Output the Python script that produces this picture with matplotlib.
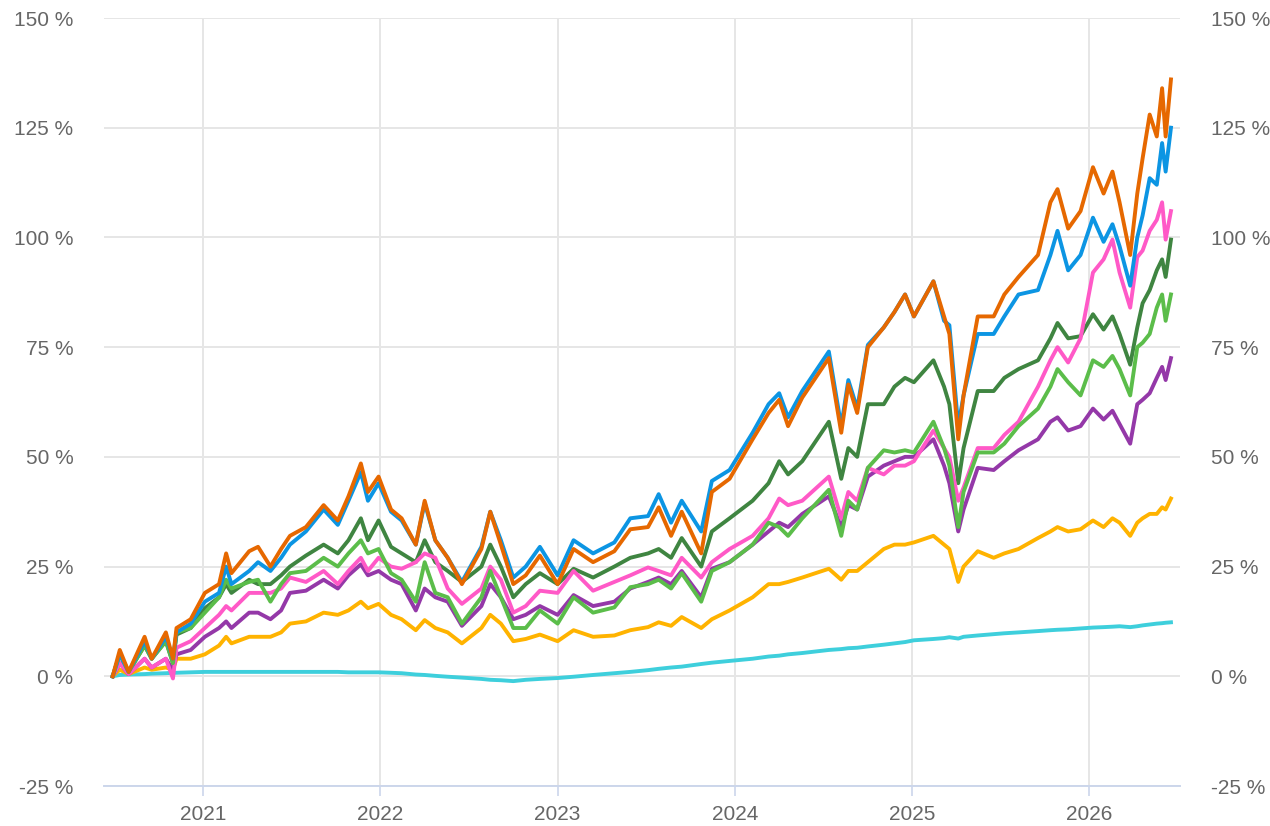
import matplotlib
matplotlib.use("Agg")
import matplotlib.pyplot as plt
from matplotlib.ticker import FuncFormatter

plt.rcParams['font.family'] = ['Liberation Sans', 'DejaVu Sans']

# time axis in fractional years
t = [2020.49, 2020.53, 2020.58, 2020.67, 2020.71, 2020.79, 2020.83, 2020.85, 2020.93, 2021.01,
     2021.09, 2021.13, 2021.16, 2021.26, 2021.31, 2021.38, 2021.44, 2021.49, 2021.58, 2021.68,
     2021.76, 2021.82, 2021.89, 2021.93, 2021.99, 2022.06, 2022.12, 2022.20, 2022.25, 2022.31,
     2022.38, 2022.46, 2022.57, 2022.62, 2022.68, 2022.75, 2022.82, 2022.90, 2023.00, 2023.09,
     2023.20, 2023.32, 2023.41, 2023.51, 2023.57, 2023.64, 2023.70, 2023.81, 2023.87, 2023.97,
     2024.10, 2024.19, 2024.25, 2024.30, 2024.38, 2024.53, 2024.60, 2024.64, 2024.69, 2024.75,
     2024.84, 2024.90, 2024.96, 2025.01, 2025.12, 2025.18, 2025.21, 2025.26, 2025.29, 2025.37,
     2025.46, 2025.52, 2025.60, 2025.71, 2025.78, 2025.82, 2025.88, 2025.95, 2026.02, 2026.08,
     2026.13, 2026.17, 2026.23, 2026.27, 2026.30, 2026.34, 2026.38, 2026.41, 2026.43, 2026.46]

# performance in %
orange = [0, 6, 1, 9, 4, 10, 4, 11, 13, 19,
          21, 28, 23.5, 28.5, 29.5, 25, 29, 32, 34, 39,
          35.5, 41, 48.5, 42, 45.5, 38, 36, 30, 40, 31,
          27, 21, 29, 37.5, 30, 21, 23, 27.5, 21, 29,
          26, 28.5, 33.5, 34, 38.5, 32, 37.5, 28, 42, 45,
          54, 60, 63, 57, 63.5, 72.5, 55.5, 66.5, 60, 75,
          79.5, 83, 87, 82, 90, 82, 78, 54, 64, 82,
          82, 87, 91, 96, 108, 111, 102, 106, 116, 110,
          115, 108, 96, 110, 118, 128, 123, 134, 123, 136]
blue = [0, 5, 1, 8, 4, 9, 4, 10, 12, 17,
        19, 25, 21, 24, 26, 24, 27, 30, 33, 38,
        34.5, 40, 46.5, 40, 44, 37.5, 35.5, 30, 39.5, 31,
        27, 21.5, 29.5, 37.5, 31, 22.5, 25, 29.5, 23, 31,
        28, 30.5, 36, 36.5, 41.5, 35, 40, 33, 44.5, 47,
        55.5, 62, 64.5, 59, 65, 74, 57, 67.5, 61, 75.5,
        79.5, 83, 87, 82, 90, 81, 80, 57, 64, 78,
        78, 82, 87, 88, 96, 101.5, 92.5, 96, 104.5, 99,
        103, 98, 89, 100, 105, 113.5, 112, 121.5, 115, 125]
dark_green = [0, 5, 1, 7, 4, 8, 3, 9.5, 11, 15.5,
              18, 21, 19, 22, 21, 21, 23, 25, 27.5, 30,
              28, 31, 36, 31, 35.5, 29.5, 28, 26, 31, 26,
              24, 21.5, 25, 30, 25, 18, 21, 23.5, 21, 24.5,
              22.5, 25, 27, 28, 29, 27, 31.5, 25, 33, 36,
              40, 44, 49, 46, 49, 58, 45, 52, 50, 62,
              62, 66, 68, 67, 72, 66, 62, 44, 52, 65,
              65, 68, 70, 72, 77, 80.5, 77, 77.5, 82.5, 79,
              82, 78, 71, 79.5, 85, 88, 92.5, 95, 91, 99.5]
pink = [0, 3, 0.5, 4, 2, 4, -0.5, 6.5, 8, 11,
        14, 16, 15, 19, 19, 19, 20, 22.5, 21.5, 24,
        21, 24, 27, 24, 27, 25, 24.5, 26, 28, 27,
        20, 16.5, 20, 25, 22, 14.5, 16, 19.5, 19, 24,
        19.5, 21.5, 23, 24.8, 24, 23, 27, 22.5, 26, 29,
        32, 36, 40.5, 39, 40, 45.5, 36, 42, 40, 47.5,
        46, 48, 48, 49, 56, 52, 50, 40, 43, 52,
        52, 55, 58, 66, 72, 75, 71.5, 77, 92, 95,
        99.5, 92, 84, 95.5, 97, 101.5, 104, 108, 99.5, 106]
light_green = [0, 5, 1, 7, 4, 8, 3, 10, 11, 14.5,
               18, 22, 20, 21.5, 22, 17, 21, 23.5, 24, 27,
               25, 28, 31, 28, 29, 23.5, 22, 17, 26, 19,
               18, 12, 18, 24, 18, 11, 11, 15, 12, 18,
               14.5, 15.7, 20.3, 21, 22, 20, 23.5, 17, 24, 26,
               30, 35, 34, 32, 36, 42.5, 32, 40, 38, 47.5,
               51.5, 51, 51.5, 51, 58, 52, 48, 34, 42, 51,
               51, 53, 57, 61, 66, 70, 67, 64, 72, 70.5,
               73, 70, 64, 75, 76, 78, 84, 87, 81, 87]
purple = [0, 3, 0.5, 4, 2, 4, 1.4, 5, 6, 9,
          11, 12.5, 11, 14.5, 14.5, 13, 15, 19, 19.5, 22,
          20, 23, 25.5, 23, 24, 22, 21, 15, 20, 18,
          17, 11.5, 16, 21, 18, 13, 14, 16, 14, 18.5,
          16, 17, 20, 21.5, 22.5, 21, 24, 18, 24.5, 26,
          30, 33, 35, 34, 37, 41, 34, 39, 38, 45.5,
          48, 49, 50, 50, 54, 48, 44, 33, 38, 47.5,
          47, 49, 51.5, 54, 58, 59, 56, 57, 61, 58.5,
          60.5, 57.5, 53, 62, 63, 64.5, 68, 70.5, 67.5, 72.5]
yellow = [0, 1.5, 0.5, 2, 1.5, 2, 1.5, 4, 4, 5,
          7, 9, 7.5, 9, 9, 9, 10, 12, 12.5, 14.5,
          14, 15, 17, 15.5, 16.5, 14, 13, 10.5, 12.8, 11,
          10, 7.5, 11, 14, 12, 8, 8.5, 9.5, 8, 10.5,
          9, 9.3, 10.5, 11.2, 12.3, 11.5, 13.5, 11, 13, 15,
          18, 21, 21, 21.5, 22.5, 24.5, 22, 24, 24, 26,
          29, 30, 30, 30.5, 32, 30, 29, 21.5, 25, 28.5,
          27, 28, 29, 31.5, 33, 34, 33, 33.5, 35.5, 34,
          36, 35, 32, 35, 36, 37, 37, 38.5, 38, 40.5]
cyan = [0, 0.3, 0.4, 0.5, 0.6, 0.7, 0.8, 0.8, 0.9, 1.0,
        1.0, 1.0, 1.0, 1.0, 1.0, 1.0, 1.0, 1.0, 1.0, 1.0,
        1.0, 0.9, 0.9, 0.9, 0.9, 0.8, 0.7, 0.4, 0.3, 0.1,
        -0.1, -0.3, -0.6, -0.8, -0.9, -1.1, -0.8, -0.6, -0.4, -0.1,
        0.3, 0.7, 1.0, 1.4, 1.7, 2.0, 2.2, 2.8, 3.1, 3.5,
        4.0, 4.5, 4.7, 5.0, 5.3, 6.0, 6.2, 6.4, 6.5, 6.8,
        7.2, 7.5, 7.8, 8.2, 8.5, 8.7, 8.9, 8.6, 9.0, 9.3,
        9.6, 9.8, 10.0, 10.3, 10.5, 10.6, 10.7, 10.9, 11.1, 11.2,
        11.3, 11.4, 11.2, 11.4, 11.6, 11.8, 12.0, 12.1, 12.2, 12.3]

series = [
    (cyan, '#3ecfdc'),
    (yellow, '#ffb300'),
    (purple, '#9438a8'),
    (dark_green, '#3f8541'),
    (pink, '#ff59c7'),
    (light_green, '#5bbd4a'),
    (blue, '#0c95e3'),
    (orange, '#e66800'),
]

fig = plt.figure(figsize=(12.7, 8.26), dpi=100)
ax = fig.add_axes([104/1270, 40/826, 1076/1270, 768/826])

for vals, col in series:
    ax.plot(t, vals, color=col, lw=2.8, solid_joinstyle='round')

ax.set_xlim(2020.441, 2026.511)
ax.set_ylim(-25, 150)
ax.set_yticks(range(-25, 151, 25))
ax.set_xticks(range(2021, 2027))
ax.xaxis.set_major_formatter(FuncFormatter(lambda v, p: f"{int(round(v))}"))
ax.yaxis.set_major_formatter(FuncFormatter(lambda v, p: f"{int(v)} %"))

ax.grid(True, color='#e6e6e6', lw=1.4)
ax.set_axisbelow(True)
for s in ['top', 'left', 'right']:
    ax.spines[s].set_visible(False)
ax.spines['bottom'].set_color('#ccd6eb')
ax.spines['bottom'].set_linewidth(1.4)

ax.tick_params(axis='y', length=0, labelsize=15, labelcolor='#666666',
               pad=22, labelleft=True, labelright=True)
ax.tick_params(axis='x', length=7, width=1.2, color='#ccd6eb', labelsize=15,
               labelcolor='#666666', pad=7)

fig.savefig('out.png', dpi=100)
